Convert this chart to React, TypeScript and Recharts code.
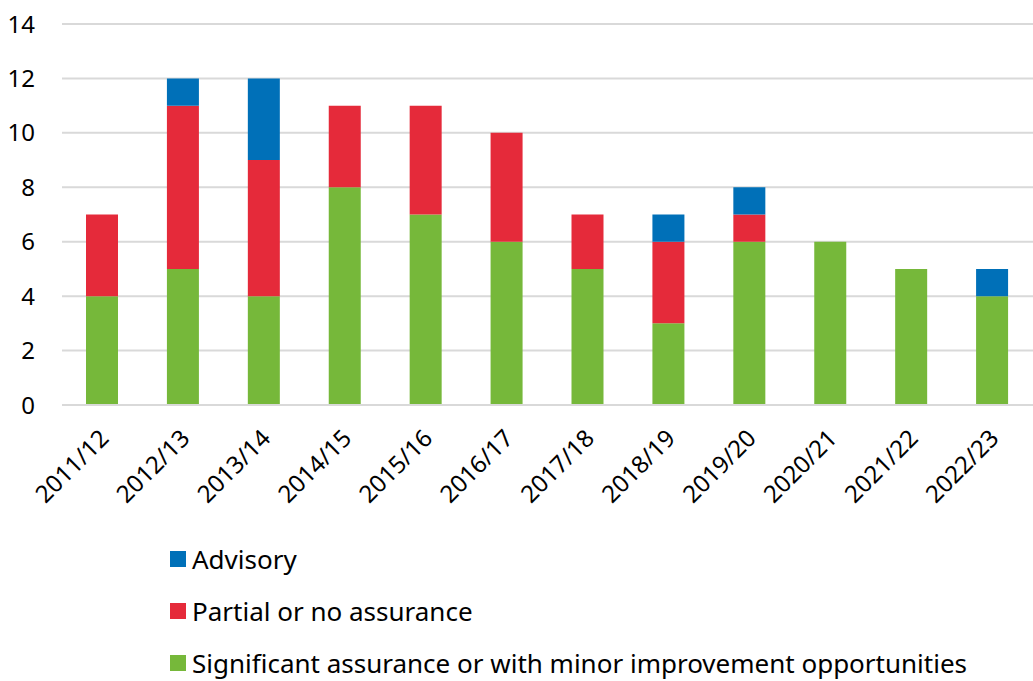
import React from "react";
import { BarChart, Bar, XAxis, YAxis, CartesianGrid } from "recharts";

const categories = ["2011/12","2012/13","2013/14","2014/15","2015/16","2016/17","2017/18","2018/19","2019/20","2020/21","2021/22","2022/23"];
const significant = [4,5,4,8,7,6,5,3,6,6,5,4];
const partial = [3,6,5,3,4,4,2,3,1,0,0,0];
const advisory = [0,1,3,0,0,0,0,1,1,0,0,1];
const yTicks = [0,2,4,6,8,10,12,14];

const data = categories.map((c, i) => ({ name: c, significant: significant[i], partial: partial[i], advisory: advisory[i] }));

const FONT = "'Noto Sans', 'Open Sans', sans-serif";
const legendItems = [
  { label: "Advisory", color: "#0070B8" },
  { label: "Partial or no assurance", color: "#E52A3A" },
  { label: "Significant assurance or with minor improvement opportunities", color: "#76B83A" },
];

const XTick = (props: any) => {
  const { x, y, payload } = props;
  const tx = x + 1;
  const ty = y + 20;
  return (
    <text x={tx} y={ty} textAnchor="end" fontSize={24} fill="#000" fontFamily={FONT}
      transform={`rotate(-45, ${tx}, ${ty})`} dominantBaseline="central">
      {payload.value}
    </text>
  );
};

export default function App() {
  return (
    <div style={{ position: "absolute", left: 0, top: 0, width: 1033, height: 681, background: "#fff", overflow: "hidden" }}>
      <BarChart width={1033} height={681} data={data} margin={{ top: 24, right: 0, bottom: 156, left: 0 }} barSize={32}>
        <CartesianGrid vertical={false} stroke="#d9d9d9" strokeWidth={2} />
        <XAxis dataKey="name" tick={<XTick />} tickLine={false} axisLine={{ stroke: "#d9d9d9", strokeWidth: 2 }} height={120} interval={0} />
        <YAxis domain={[0, 14]} ticks={yTicks} width={62} tickLine={false} axisLine={false} tickSize={0} tickMargin={27}
          tick={{ fontSize: 24, fill: "#000", fontFamily: FONT }} />
        <Bar dataKey="significant" stackId="a" fill="#76B83A" isAnimationActive={false} />
        <Bar dataKey="partial" stackId="a" fill="#E52A3A" isAnimationActive={false} />
        <Bar dataKey="advisory" stackId="a" fill="#0070B8" isAnimationActive={false} />
      </BarChart>
      <div style={{ position: "absolute", left: 170, top: 533, fontFamily: FONT, fontSize: 26, color: "#000", whiteSpace: "nowrap" }}>
        {legendItems.map((it) => (
          <div key={it.label} style={{ display: "flex", alignItems: "center", height: 52 }}>
            <span style={{ display: "inline-block", width: 16, height: 16, background: it.color, marginRight: 6 }} />
            <span>{it.label}</span>
          </div>
        ))}
      </div>
    </div>
  );
}
